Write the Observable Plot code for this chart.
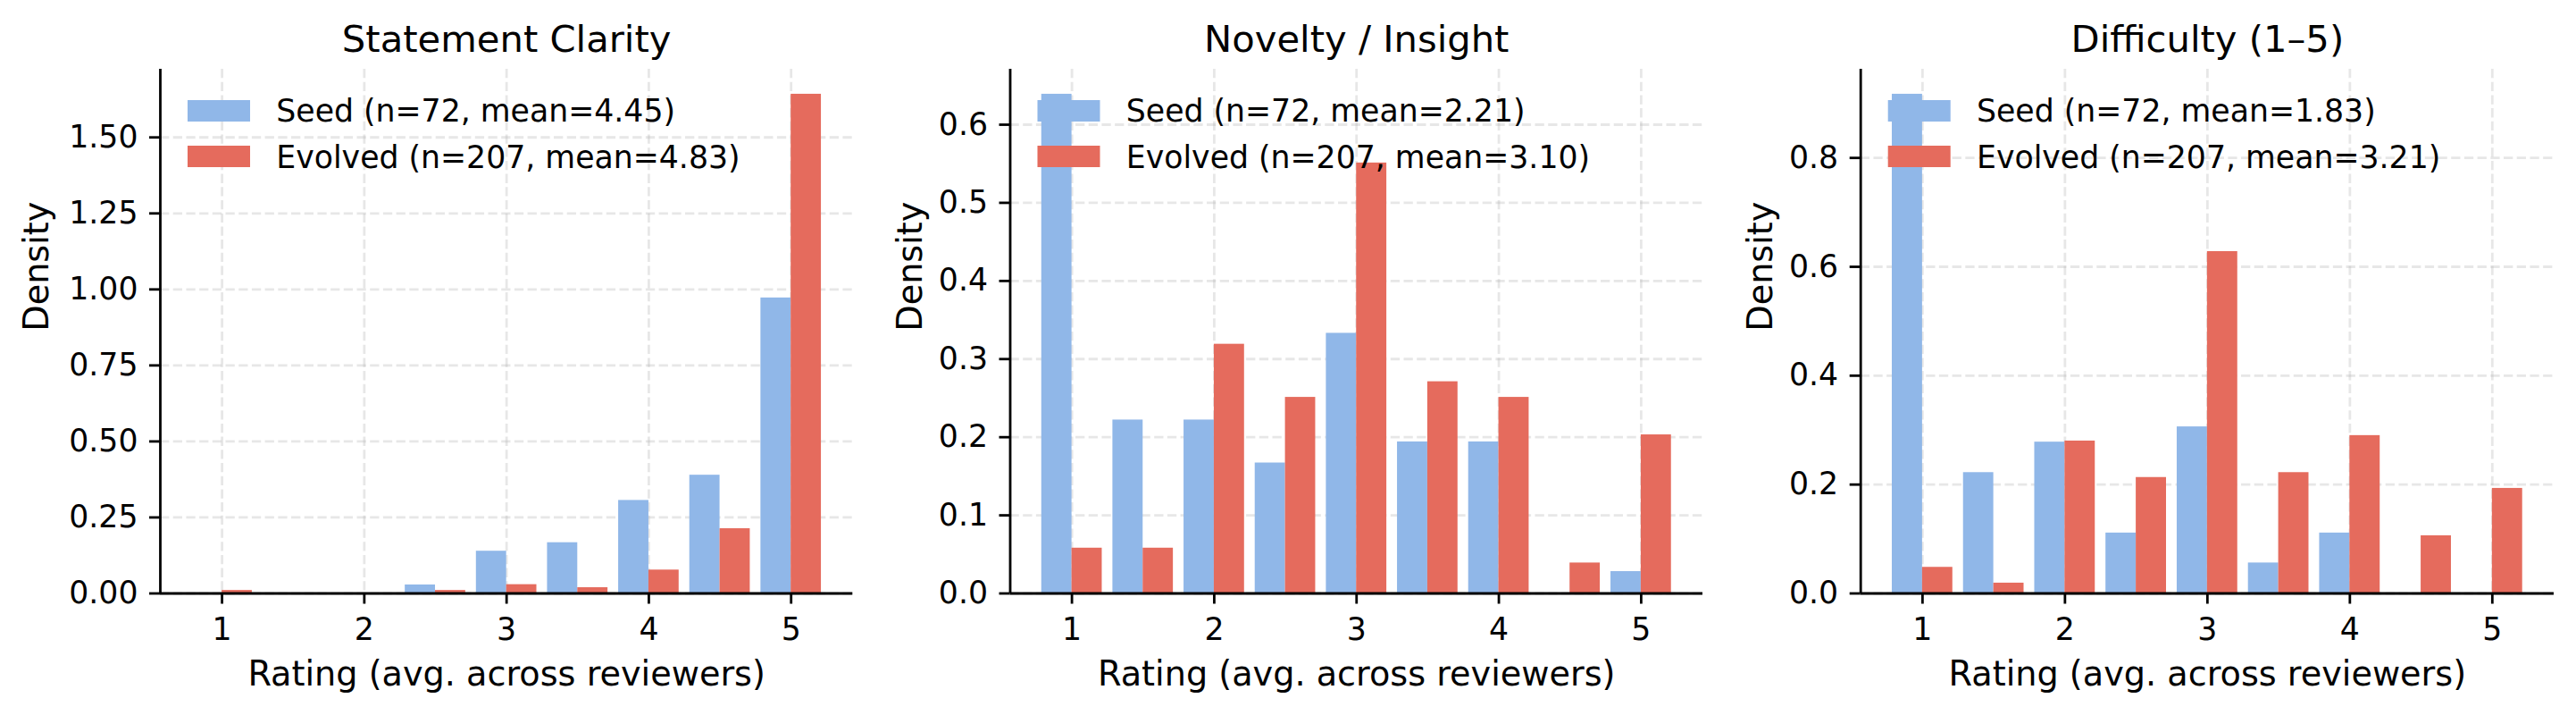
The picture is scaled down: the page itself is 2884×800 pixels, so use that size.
<!DOCTYPE html>
<html>
<head>
<meta charset="utf-8">
<script src="https://cdn.jsdelivr.net/npm/d3@7"></script>
<script src="https://cdn.jsdelivr.net/npm/@observablehq/plot@0.6"></script>
<style>
  body { margin: 0; background: #ffffff; }
  #fig { position: relative; width: 2884px; height: 800px; background: #ffffff; }
  #fig > svg { position: absolute; top: 0; }
</style>
</head>
<body>
<div id="fig"></div>
<script>
// ---------- data ----------
const binCenters = [1, 1.5, 2, 2.5, 3, 3.5, 4, 4.5, 5];
const xTickValues = [1, 2, 3, 4, 5];

const panelTitles = ["Statement Clarity", "Novelty / Insight", "Difficulty (1–5)"];
const seriesNames = ["Seed", "Evolved"];
const seedLegend = ["Seed (n=72, mean=4.45)", "Seed (n=72, mean=2.21)", "Seed (n=72, mean=1.83)"];
const evolvedLegend = ["Evolved (n=207, mean=4.83)", "Evolved (n=207, mean=3.10)", "Evolved (n=207, mean=3.21)"];

const seedClarity      = [0, 0, 0, 0.028, 0.139, 0.167, 0.306, 0.389, 0.972];
const evolvedClarity   = [0.010, 0, 0, 0.010, 0.029, 0.019, 0.077, 0.213, 1.642];
const seedNovelty      = [0.639, 0.222, 0.222, 0.167, 0.333, 0.194, 0.194, 0, 0.028];
const evolvedNovelty   = [0.058, 0.058, 0.319, 0.251, 0.551, 0.271, 0.251, 0.039, 0.203];
const seedDifficulty   = [0.917, 0.222, 0.278, 0.111, 0.306, 0.056, 0.111, 0, 0];
const evolvedDifficulty= [0.048, 0.019, 0.280, 0.213, 0.628, 0.222, 0.290, 0.106, 0.193];

const yTicksClarity    = [0, 0.25, 0.5, 0.75, 1.0, 1.25, 1.5];
const yTicksNovelty    = [0, 0.1, 0.2, 0.3, 0.4, 0.5, 0.6];
const yTicksDifficulty = [0, 0.2, 0.4, 0.6, 0.8];
const yTickFormats     = [".2f", ".1f", ".1f"];

const xLabel = "Rating (avg. across reviewers)";
const yLabel = "Density";

// ---------- style / layout ----------
const colors = {Seed: "#90b7e8", Evolved: "#e56b5d"};
const binWidth = 0.5, rwidth = 0.85;
const barW = binWidth * rwidth / 2;
const font = "DejaVu Sans, Liberation Sans, sans-serif";
const lw = 2.8;

const layout = [
  {svgLeft: 0,    svgWidth: 960, axL: 179,    axR: 954.3, ylabOff: 126},
  {svgLeft: 960,  svgWidth: 960, axL: 1130.5, axR: 1906,  ylabOff: 99.5},
  {svgLeft: 1920, svgWidth: 964, axL: 2082.7, axR: 2859,  ylabOff: 99.5}
];
const axTop = 77, axBottom = 663.5, H = 800;

const panels = [
  {seed: seedClarity, evolved: evolvedClarity, yTicks: yTicksClarity},
  {seed: seedNovelty, evolved: evolvedNovelty, yTicks: yTicksNovelty},
  {seed: seedDifficulty, evolved: evolvedDifficulty, yTicks: yTicksDifficulty}
];

const fig = document.getElementById("fig");

panels.forEach((p, i) => {
  const L = layout[i];
  const rows = [];
  binCenters.forEach((c, j) => {
    rows.push({series: "Seed", x1: c - barW, x2: c, y: p.seed[j]});
    rows.push({series: "Evolved", x1: c, x2: c + barW, y: p.evolved[j]});
  });
  const lo = binCenters[0] - barW, hi = binCenters[binCenters.length - 1] + barW;
  const span = hi - lo;
  const xDomain = [lo - 0.05 * span, hi + 0.05 * span];
  const yMax = 1.05 * d3.max(rows, d => d.y);

  const plot = Plot.plot({
    width: L.svgWidth,
    height: H,
    marginLeft: L.axL - L.svgLeft,
    marginRight: L.svgLeft + L.svgWidth - L.axR,
    marginTop: axTop,
    marginBottom: H - axBottom,
    style: {fontFamily: font, fontSize: "34.7px", color: "black", background: "white", overflow: "visible"},
    x: {domain: xDomain},
    y: {domain: [0, yMax]},
    marks: [
      Plot.gridX({ticks: xTickValues, stroke: "#b0b0b0", strokeOpacity: 0.3, strokeWidth: lw, strokeDasharray: "10.3,4.4"}),
      Plot.gridY({ticks: p.yTicks, stroke: "#b0b0b0", strokeOpacity: 0.3, strokeWidth: lw, strokeDasharray: "10.3,4.4"}),
      Plot.rect(rows, {x1: "x1", x2: "x2", y1: 0, y2: "y", fill: d => colors[d.series]}),
      Plot.ruleX([xDomain[0]], {stroke: "black", strokeWidth: lw}),
      Plot.ruleY([0], {stroke: "black", strokeWidth: lw}),
      Plot.axisX({ticks: xTickValues, tickFormat: d3.format("d"), tickSize: 12, tickPadding: 15, strokeWidth: lw, fontSize: 34.7, label: null}),
      Plot.axisY({ticks: p.yTicks, tickFormat: d3.format(yTickFormats[i]), tickSize: 12, tickPadding: 13, strokeWidth: lw, fontSize: 34.7, label: null}),
      Plot.text([panelTitles[i]], {frameAnchor: "top", dy: -20, lineAnchor: "bottom", fontSize: 41.7, fill: "black"}),
      Plot.text([xLabel], {frameAnchor: "bottom", dy: 102.5, lineAnchor: "bottom", fontSize: 38.2, fill: "black"}),
      Plot.text([yLabel], {frameAnchor: "left", dx: -L.ylabOff, rotate: -90, lineAnchor: "bottom", fontSize: 38.2, fill: "black"})
    ]
  });
  plot.style.left = L.svgLeft + "px";
  fig.appendChild(plot);

  // legend (no frame), drawn on top of bars
  const svg = d3.select(plot);
  const g = svg.append("g")
    .attr("font-family", font)
    .attr("font-size", 34.7)
    .attr("text-anchor", "start");
  const ox = L.axL - L.svgLeft;
  const items = [
    {name: seedLegend[i], color: colors.Seed, top: 112, base: 136},
    {name: evolvedLegend[i], color: colors.Evolved, top: 163, base: 188}
  ];
  items.forEach(it => {
    g.append("rect").attr("x", ox + 31).attr("y", it.top).attr("width", 70).attr("height", 24).attr("fill", it.color);
    g.append("text").attr("x", ox + 130.3).attr("y", it.base).attr("fill", "black").attr("text-anchor", "start").text(it.name);
  });
});
</script>
</body>
</html>
